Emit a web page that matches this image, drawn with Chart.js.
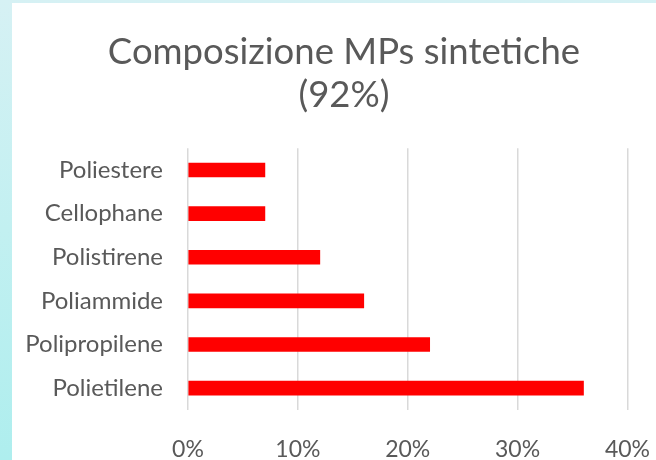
<!DOCTYPE html>
<html>
<head>
<meta charset="utf-8">
<script src="https://cdn.jsdelivr.net/npm/chart.js@4/dist/chart.umd.min.js"></script>
<style>
  html, body { margin: 0; padding: 0; }
  body {
    width: 656px; height: 460px; overflow: hidden; position: relative;
    background: linear-gradient(180deg, #d6f1f4 0%, #c2f0f1 50%, #aeeeee 100%);
  }
  #panel {
    position: absolute; left: 12px; top: 3px; width: 644px; height: 457px;
    background: #ffffff; overflow: hidden;
  }
  canvas { display: block; }
</style>
</head>
<body>
<div id="panel"><canvas id="chart" width="664" height="457"></canvas></div>
<script>
// Synthetic microplastic composition (share of each polymer)
const categories = ['Poliestere', 'Cellophane', 'Polistirene', 'Poliammide', 'Polipropilene', 'Polietilene'];
const shares = [7, 7, 12, 16, 22, 36];
const tickLabels = ['0%', '10%', '20%', '30%', '40%'];
const titleLines = ['Composizione MPs sintetiche', '(92%)'];

const textColor = '#595959';
const fontFamily = 'Lato, "Open Sans", sans-serif';

new Chart(document.getElementById('chart'), {
  type: 'bar',
  data: {
    labels: categories,
    datasets: [{
      data: shares,
      backgroundColor: '#ff0000',
      borderWidth: 0,
      barThickness: 14
    }]
  },
  options: {
    indexAxis: 'y',
    responsive: false,
    animation: false,
    events: [],
    layout: { padding: 0 },
    plugins: {
      legend: { display: false },
      tooltip: { enabled: false },
      title: {
        display: true,
        text: titleLines,
        color: textColor,
        font: { family: fontFamily, size: 36.5, weight: 'normal', lineHeight: 1.18 },
        padding: { top: 28, bottom: 31 }
      }
    },
    scales: {
      x: {
        min: 0, max: 40,
        afterFit: (scale) => { scale.height = 50; },
        ticks: {
          stepSize: 10,
          color: textColor,
          font: { family: fontFamily, size: 23 },
          padding: 26,
          callback: (v, i) => tickLabels[i]
        },
        grid: { color: '#d9d9d9', lineWidth: 1.5, drawTicks: false },
        border: { display: false }
      },
      y: {
        afterFit: (scale) => { scale.width = 176; },
        ticks: {
          color: textColor,
          font: { family: fontFamily, size: 24 },
          padding: 25
        },
        grid: { display: false, drawTicks: false },
        border: { display: false }
      }
    }
  }
});
</script>
</body>
</html>
